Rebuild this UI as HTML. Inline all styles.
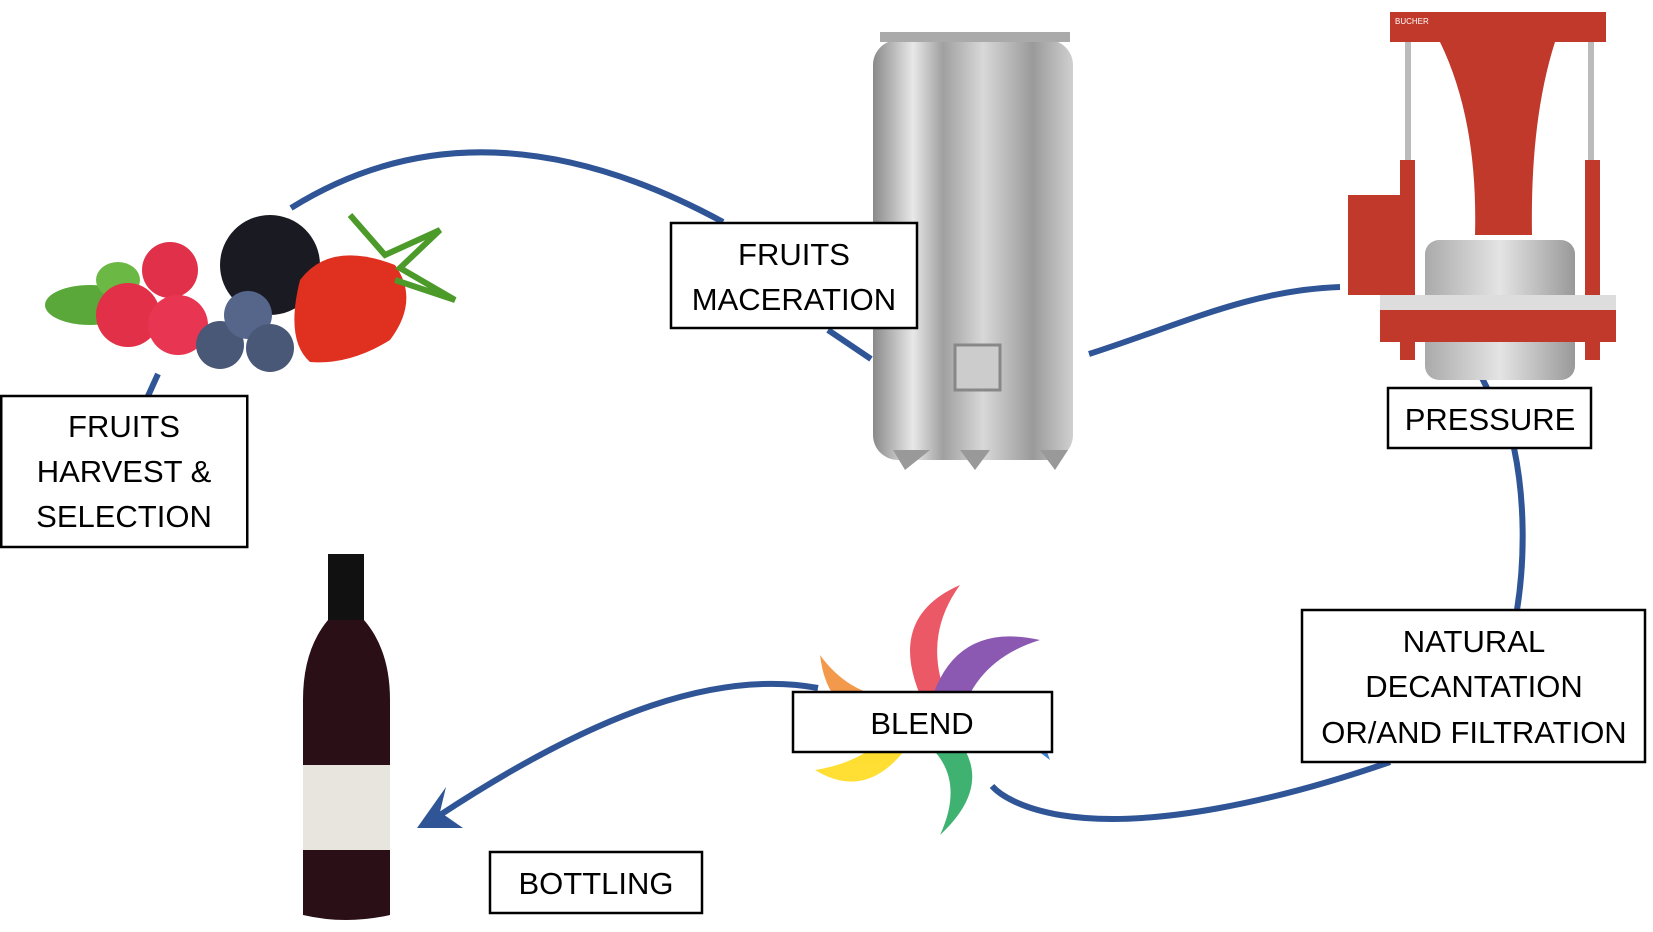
<!DOCTYPE html>
<html><head><meta charset="utf-8"><style>
html,body{margin:0;padding:0;background:#fff;width:1653px;height:932px;overflow:hidden}
svg{display:block}
text{font-family:"Liberation Sans",sans-serif;font-size:31px;fill:#000}
</style></head><body>
<svg width="1653" height="932" viewBox="0 0 1653 932" xmlns="http://www.w3.org/2000/svg">
<defs>
<linearGradient id="steel" x1="0" x2="1">
<stop offset="0" stop-color="#8a8a8a"/><stop offset="0.2" stop-color="#e8e8e8"/><stop offset="0.35" stop-color="#a0a0a0"/><stop offset="0.55" stop-color="#d8d8d8"/><stop offset="0.8" stop-color="#9a9a9a"/><stop offset="1" stop-color="#d0d0d0"/>
</linearGradient>
<linearGradient id="drum" x1="0" x2="1">
<stop offset="0" stop-color="#aaa"/><stop offset="0.5" stop-color="#e4e4e4"/><stop offset="1" stop-color="#999"/>
</linearGradient>
</defs>
<g fill="none" stroke="#2f5597" stroke-width="6">
<path d="M291 208 Q480 90 723 222"/>
<path d="M158 374 L148 396"/>
<path d="M828 330 L871 359"/>
<path d="M1089 354 C1180 325 1250 290 1340 287"/>
<path d="M1474 362 L1487 388"/>
<path d="M1514 448 C1525 500 1525 560 1517 610"/>
<path d="M1390 762 C1280 800 1150 830 1060 815 C1020 808 1000 795 992 786"/>
<path d="M818 688 C720 670 600 710 440 815"/>
</g>
<path d="M417 828 L446 787 L440 812 L463 828 Z" fill="#2f5597"/>
<!-- berries -->
<g>
<ellipse cx="90" cy="305" rx="45" ry="20" fill="#5aa83a"/>
<ellipse cx="118" cy="280" rx="22" ry="18" fill="#6cb844"/>
<ellipse cx="270" cy="265" rx="50" ry="50" fill="#1a1a22"/>
<circle cx="170" cy="270" r="28" fill="#e0304a"/>
<circle cx="128" cy="315" r="32" fill="#e23048"/>
<circle cx="178" cy="325" r="30" fill="#e83552"/>
<circle cx="220" cy="345" r="24" fill="#4a5878"/>
<circle cx="248" cy="315" r="24" fill="#56668a"/>
<circle cx="270" cy="348" r="24" fill="#4a5878"/>
<path d="M300 280 Q330 240 395 265 Q420 300 390 340 Q350 365 310 362 Q285 340 300 280 Z" fill="#e03020"/>
<path d="M350 215 L385 255 L440 230 L400 268 L455 300 L395 280" stroke="#4c9a2a" stroke-width="6" fill="none"/>
</g>
<!-- tank -->
<g>
<rect x="873" y="40" width="200" height="420" rx="25" fill="url(#steel)"/>
<rect x="880" y="32" width="190" height="10" fill="#aaa"/>
<path d="M893 450 L905 470 L930 450 Z M960 450 L975 470 L990 450Z M1040 450 L1055 470 L1068 450Z" fill="#999"/>
<rect x="955" y="345" width="45" height="45" fill="#ccc" stroke="#888" stroke-width="3"/>
</g>
<!-- press -->
<g>
<rect x="1390" y="12" width="216" height="30" fill="#c0392b"/>
<path d="M1440 42 L1555 42 Q1530 120 1532 235 L1475 235 Q1478 120 1440 42Z" fill="#c0392b"/>
<rect x="1405" y="42" width="6" height="240" fill="#bbb"/><rect x="1588" y="42" width="6" height="240" fill="#bbb"/>
<rect x="1400" y="160" width="15" height="200" fill="#c0392b"/><rect x="1585" y="160" width="15" height="200" fill="#c0392b"/>
<rect x="1425" y="240" width="150" height="140" rx="14" fill="url(#drum)"/>
<rect x="1348" y="195" width="52" height="100" fill="#c0392b"/>
<rect x="1380" y="295" width="236" height="18" fill="#ddd"/>
<rect x="1380" y="310" width="236" height="32" fill="#c0392b"/>
<text x="1395" y="24" style="font-size:8px;fill:#fff">BUCHER</text>
</g>
<!-- bottle -->
<g>
<rect x="328" y="554" width="36" height="70" fill="#111"/>
<path d="M328 620 Q303 650 303 700 L303 915 Q346 925 390 915 L390 700 Q390 650 364 620Z" fill="#2a0f16"/>
<rect x="303" y="765" width="87" height="85" fill="#e8e4de"/>
</g>
<!-- swirl -->
<g opacity="0.8">
<path d="M928 712 Q880 620 960 585 Q920 640 950 705Z" fill="#e83040"/>
<path d="M928 712 Q950 620 1040 640 Q975 660 960 720Z" fill="#7030a0"/>
<path d="M928 712 Q1020 670 1050 760 Q1000 720 945 735Z" fill="#1060c0"/>
<path d="M928 712 Q1010 770 940 835 Q970 770 915 735Z" fill="#10a050"/>
<path d="M928 712 Q880 810 815 770 Q880 760 910 705Z" fill="#ffd700"/>
<path d="M928 712 Q830 740 820 655 Q860 710 930 695Z" fill="#f08020"/>
</g>
<g fill="#fff" stroke="#000" stroke-width="2.5">
<rect x="1.25" y="396" width="246" height="151"/>
<rect x="671" y="223" width="246" height="105"/>
<rect x="1388" y="388" width="203" height="60"/>
<rect x="1302" y="610" width="343" height="152"/>
<rect x="793" y="692" width="259" height="60"/>
<rect x="490" y="852" width="212" height="61"/>
</g>
<g text-anchor="middle">
<text x="124" y="437">FRUITS</text><text x="124" y="482">HARVEST &amp;</text><text x="124" y="527">SELECTION</text>
<text x="794" y="265">FRUITS</text><text x="794" y="310">MACERATION</text>
<text x="1490" y="430">PRESSURE</text>
<text x="1474" y="652">NATURAL</text><text x="1474" y="697">DECANTATION</text><text x="1474" y="743">OR/AND FILTRATION</text>
<text x="922" y="734">BLEND</text>
<text x="596" y="894">BOTTLING</text>
</g>
</svg>
</body></html>
